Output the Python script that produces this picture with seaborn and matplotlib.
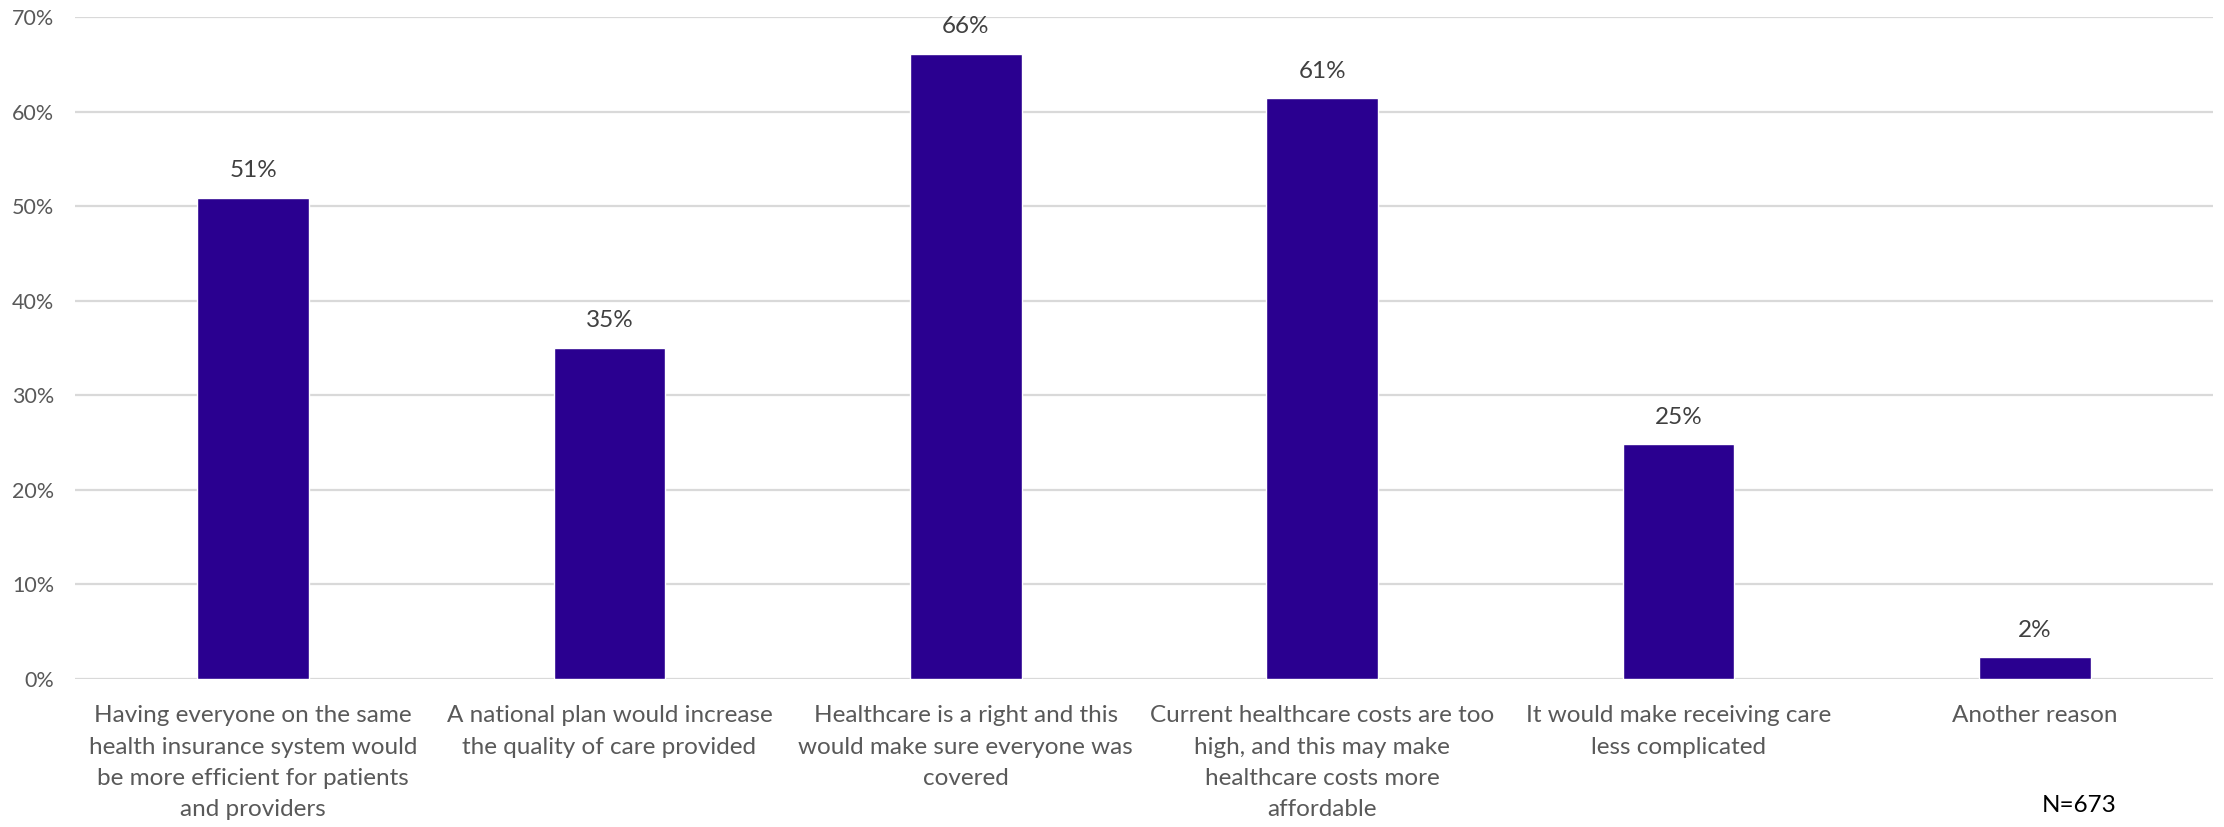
import matplotlib as mpl
mpl.use('Agg')
import matplotlib.pyplot as plt
import seaborn as sns
import pandas as pd
from matplotlib.ticker import PercentFormatter

# data
reasons = [
    'Having everyone on the same\nhealth insurance system would\nbe more efficient for patients\nand providers',
    'A national plan would increase\nthe quality of care provided',
    'Healthcare is a right and this\nwould make sure everyone was\ncovered',
    'Current healthcare costs are too\nhigh, and this may make\nhealthcare costs more\naffordable',
    'It would make receiving care\nless complicated',
    'Another reason',
]
pct = [50.9, 35.0, 66.1, 61.4, 24.8, 2.3]
note = 'N=673'

sns.set_style('white')
plt.rcParams['font.family'] = ['Lato', 'DejaVu Sans']

df = pd.DataFrame({'reason': reasons, 'pct': pct})

fig = plt.figure(figsize=(22.24, 8.27), dpi=100)
ax = fig.add_axes([75 / 2224, 1 - 679 / 827, 2138 / 2224, 662 / 827])

sns.barplot(data=df, x='reason', y='pct', color='#2a0090', saturation=1,
            width=0.314, ax=ax, zorder=3)

ax.set_ylim(0, 70)
ax.set_yticks(range(0, 71, 10))
ax.yaxis.set_major_formatter(PercentFormatter(decimals=0))
ax.grid(axis='y', color='#d9d9d9', linewidth=1.6, zorder=0)
ax.set_axisbelow(True)
for s in ax.spines.values():
    s.set_visible(False)
ax.set_xlabel('')
ax.set_ylabel('')
ax.tick_params(axis='both', length=0, labelcolor='#595959')
ax.tick_params(axis='y', pad=15, labelsize=15.5)
ax.tick_params(axis='x', pad=19, labelsize=17.5)
for t in ax.get_xticklabels():
    t.set_linespacing(1.6)
    t.set_verticalalignment('top')

for i, v in enumerate(pct):
    ax.annotate(f'{round(v)}%', (i, v), xytext=(0, 12), textcoords='offset points',
                ha='center', va='bottom', fontsize=17.5, color='#404040')

fig.text(2079 / 2224, 1 - 806 / 827, note, ha='center', va='center',
         fontsize=17.5, color='black')

fig.savefig('out.png', dpi=100)
